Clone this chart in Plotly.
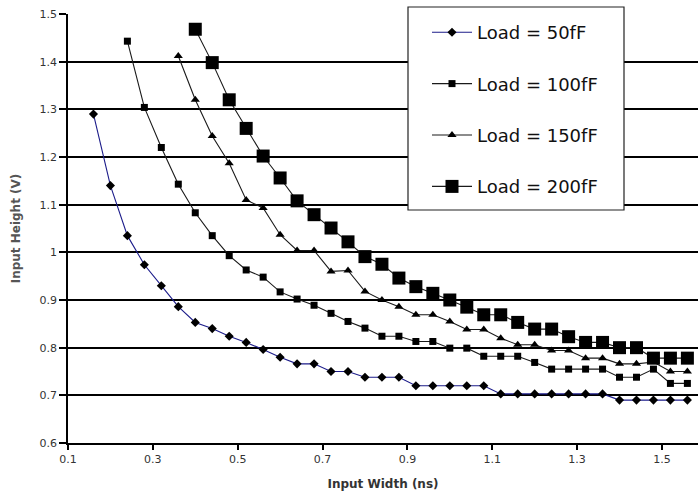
import plotly.graph_objects as go

# Input width (ns) for each load
x_50 = [0.16, 0.20, 0.24, 0.28, 0.32, 0.36, 0.40, 0.44, 0.48, 0.52, 0.56, 0.60,
        0.64, 0.68, 0.72, 0.76, 0.80, 0.84, 0.88, 0.92, 0.96, 1.00, 1.04, 1.08,
        1.12, 1.16, 1.20, 1.24, 1.28, 1.32, 1.36, 1.40, 1.44, 1.48, 1.52, 1.56]
x_100 = [0.24, 0.28, 0.32, 0.36, 0.40, 0.44, 0.48, 0.52, 0.56, 0.60,
         0.64, 0.68, 0.72, 0.76, 0.80, 0.84, 0.88, 0.92, 0.96, 1.00,
         1.04, 1.08, 1.12, 1.16, 1.20, 1.24, 1.28, 1.32, 1.36, 1.40,
         1.44, 1.48, 1.52, 1.56]
x_150 = [0.36, 0.40, 0.44, 0.48, 0.52, 0.56, 0.60, 0.64, 0.68, 0.72,
         0.76, 0.80, 0.84, 0.88, 0.92, 0.96, 1.00, 1.04, 1.08, 1.12,
         1.16, 1.20, 1.24, 1.28, 1.32, 1.36, 1.40, 1.44, 1.48, 1.52, 1.56]
x_200 = [0.40, 0.44, 0.48, 0.52, 0.56, 0.60, 0.64, 0.68, 0.72, 0.76,
         0.80, 0.84, 0.88, 0.92, 0.96, 1.00, 1.04, 1.08, 1.12, 1.16,
         1.20, 1.24, 1.28, 1.32, 1.36, 1.40, 1.44, 1.48, 1.52, 1.56]

# Minimum input height (V) for each load
h_50 = [1.290, 1.140, 1.035, 0.974, 0.930, 0.886, 0.853, 0.840, 0.824, 0.811,
        0.796, 0.780, 0.766, 0.766, 0.750, 0.750, 0.738, 0.738, 0.738, 0.720,
        0.720, 0.720, 0.720, 0.720, 0.703, 0.703, 0.703, 0.703, 0.703, 0.703,
        0.703, 0.690, 0.690, 0.690, 0.690, 0.690]
h_100 = [1.443, 1.304, 1.220, 1.143, 1.083, 1.035, 0.993, 0.963, 0.948, 0.917,
         0.902, 0.889, 0.872, 0.855, 0.841, 0.824, 0.824, 0.813, 0.813, 0.799,
         0.799, 0.782, 0.782, 0.782, 0.769, 0.755, 0.755, 0.755, 0.755, 0.738,
         0.738, 0.755, 0.725, 0.725]
h_150 = [1.412, 1.320, 1.244, 1.187, 1.110, 1.093, 1.037, 1.004, 1.004, 0.960,
         0.962, 0.918, 0.900, 0.886, 0.869, 0.869, 0.855, 0.838, 0.838, 0.820,
         0.806, 0.806, 0.794, 0.794, 0.778, 0.778, 0.766, 0.766, 0.770, 0.750,
         0.750]
h_200 = [1.468, 1.398, 1.320, 1.260, 1.202, 1.156, 1.108, 1.079, 1.051, 1.022,
         0.991, 0.975, 0.946, 0.928, 0.914, 0.900, 0.885, 0.869, 0.869, 0.853,
         0.839, 0.839, 0.823, 0.811, 0.811, 0.800, 0.800, 0.778, 0.778, 0.778]

names = ["Load = 50fF", "Load = 100fF", "Load = 150fF", "Load = 200fF"]

x_ticks = [0.1, 0.3, 0.5, 0.7, 0.9, 1.1, 1.3, 1.5]
x_labels = ["0.1", "0.3", "0.5", "0.7", "0.9", "1.1", "1.3", "1.5"]
y_ticks = [0.6, 0.7, 0.8, 0.9, 1.0, 1.1, 1.2, 1.3, 1.4, 1.5]
y_labels = ["0.6", "0.7", "0.8", "0.9", "1", "1.1", "1.2", "1.3", "1.4", "1.5"]

FONT = "DejaVu Sans"

series = [
    (x_50, h_50, "diamond", 7, "#1c1c8a"),
    (x_100, h_100, "square", 7, "#1a1a1a"),
    (x_150, h_150, "triangle-up", 8, "#1a1a1a"),
    (x_200, h_200, "square", 13, "#1a1a1a"),
]

fig = go.Figure()
for (xs, ys, sym, size, lc), name in zip(series, names):
    fig.add_trace(go.Scatter(
        x=xs, y=ys, name=name, legendgroup=name, mode="lines+markers",
        line=dict(color=lc, width=1.1),
        marker=dict(symbol=sym, size=size, color="black", line=dict(width=0)),
    ))

W, H = 698, 496
L, R, T, B = 68, 0, 14, 53
pw = W - L - R
ph = H - T - B

# legend frame
fig.add_shape(type="rect", xref="paper", yref="paper",
              x0=(408 - L) / pw, x1=(624 - L) / pw,
              y0=1 - (210 - T) / ph, y1=1 - (7 - T) / ph,
              fillcolor="white", line=dict(color="#222", width=1.2),
              layer="above")

fig.update_layout(
    width=W, height=H,
    margin=dict(l=L, r=R, t=T, b=B),
    paper_bgcolor="white", plot_bgcolor="white",
    font=dict(family=FONT, color="#222"),
    showlegend=True,
    legend=dict(
        x=(427 - L) / pw, y=1 - (14 - T) / ph, xanchor="left", yanchor="top",
        bgcolor="rgba(0,0,0,0)", borderwidth=0,
        font=dict(family=FONT, size=18, color="#111"),
        tracegroupgap=25, itemwidth=40,
    ),
    xaxis=dict(
        range=[0.1, 1.585], tickvals=x_ticks, ticktext=x_labels,
        showgrid=False, zeroline=False,
        showline=True, linecolor="black", linewidth=1.5,
        ticks="outside", ticklen=5, tickcolor="black", tickwidth=1.5,
        tickfont=dict(family=FONT, size=11, color="#333"),
        title=dict(text="<b>Input Width (ns)</b>",
                   font=dict(family=FONT, size=12, color="#333"), standoff=15),
    ),
    yaxis=dict(
        range=[0.6, 1.5], tickvals=y_ticks, ticktext=y_labels,
        showgrid=True, gridcolor="black", gridwidth=1.5, zeroline=False,
        showline=True, linecolor="black", linewidth=1.5,
        ticks="outside", ticklen=7, tickcolor="black", tickwidth=1.5,
        tickfont=dict(family=FONT, size=11, color="#333"),
        title=dict(text="<b>Input Height (V)</b>",
                   font=dict(family=FONT, size=12, color="#555"), standoff=16),
    ),
)

fig.write_html("out.html")
